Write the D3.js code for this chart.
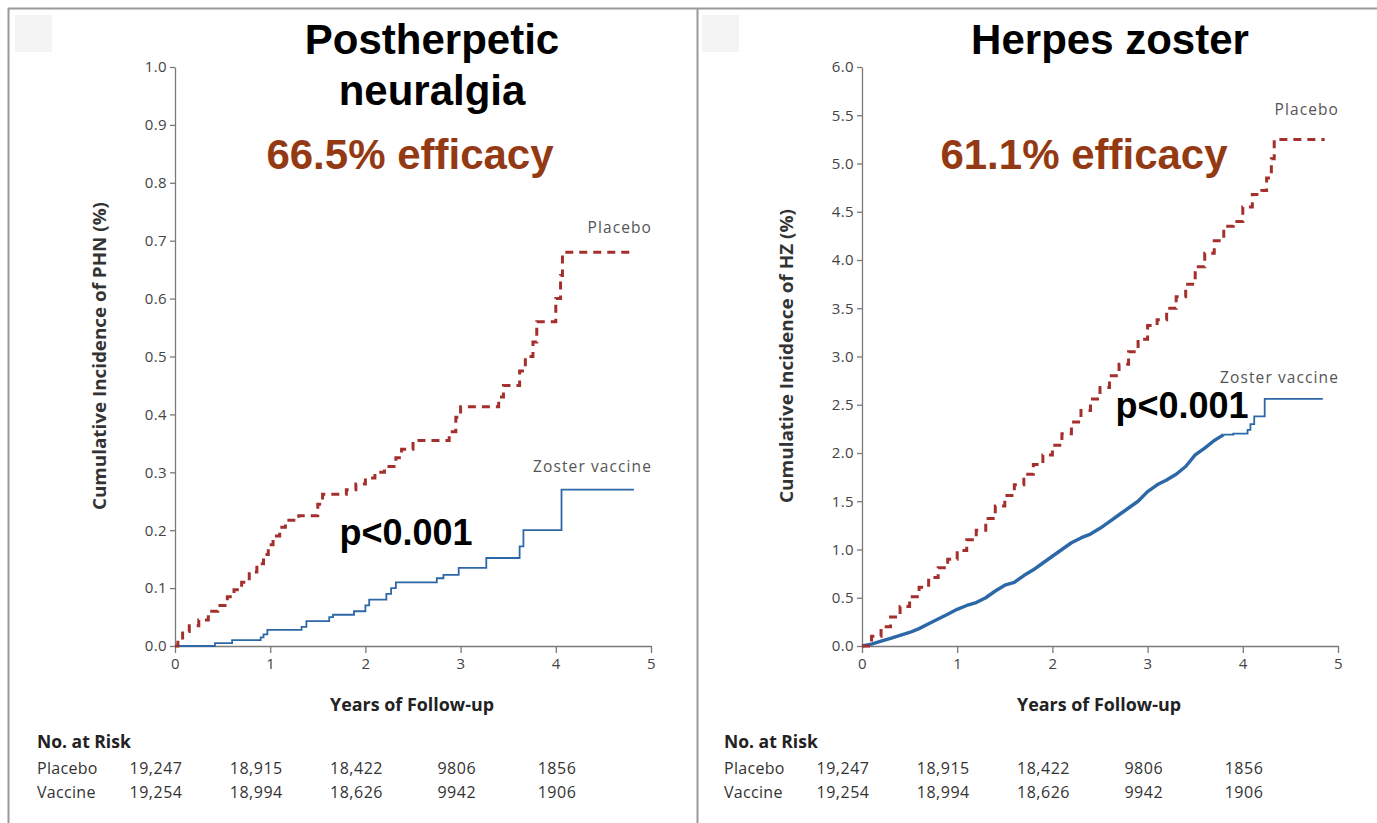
<!DOCTYPE html>
<html><head><meta charset="utf-8">
<script src="https://cdn.jsdelivr.net/npm/d3@7"></script>
<style>body{margin:0;background:#fff;overflow:hidden} svg{display:block}</style>
</head><body>
<svg id="c" width="1377" height="823"></svg>
<script>
// ---------- data ----------
const years = [0, 1, 2, 3, 4, 5];
const phnTicks = [0, 0.1, 0.2, 0.3, 0.4, 0.5, 0.6, 0.7, 0.8, 0.9, 1.0];
const hzTicks = [0, 0.5, 1.0, 1.5, 2.0, 2.5, 3.0, 3.5, 4.0, 4.5, 5.0, 5.5, 6.0];

const phnPlaceboT = [0,0.03,0.08,0.15,0.25,0.35,0.45,0.55,0.62,0.7,0.78,0.86,0.93,0.98,1.03,1.1,1.16,1.3,1.5,1.55,1.8,1.9,2.0,2.1,2.2,2.32,2.38,2.5,2.88,2.95,3.0,3.4,3.45,3.62,3.68,3.76,3.8,4.0,4.05,4.07,4.82];
const phnPlaceboV = [0,0.01,0.025,0.035,0.045,0.06,0.07,0.085,0.097,0.11,0.128,0.142,0.158,0.175,0.19,0.205,0.217,0.225,0.245,0.262,0.27,0.28,0.29,0.3,0.31,0.325,0.34,0.355,0.37,0.395,0.413,0.43,0.45,0.475,0.5,0.525,0.56,0.6,0.64,0.68,0.68];
const phnVaccineT = [0,0.42,0.6,0.9,0.93,0.97,1.33,1.38,1.62,1.66,1.88,2.0,2.04,2.22,2.27,2.32,2.75,2.82,2.98,3.27,3.62,3.66,4.06,4.82];
const phnVaccineV = [0,0.005,0.01,0.015,0.02,0.028,0.033,0.043,0.05,0.054,0.06,0.07,0.08,0.09,0.1,0.11,0.117,0.123,0.135,0.152,0.172,0.2,0.27,0.27];

const hzPlaceboT = [0,0.1,0.2,0.3,0.4,0.5,0.6,0.7,0.8,0.9,1.0,1.1,1.2,1.3,1.4,1.5,1.6,1.7,1.8,1.9,2.0,2.1,2.2,2.3,2.4,2.5,2.6,2.7,2.8,2.9,3.0,3.1,3.2,3.3,3.4,3.5,3.6,3.7,3.8,3.9,4.0,4.1,4.2,4.25,4.3,4.33,4.86];
const hzPlaceboV = [0,0.1,0.2,0.3,0.41,0.51,0.61,0.71,0.81,0.9,0.99,1.1,1.2,1.32,1.45,1.56,1.67,1.78,1.88,1.98,2.08,2.2,2.32,2.44,2.56,2.68,2.8,2.92,3.05,3.18,3.32,3.38,3.5,3.62,3.75,3.93,4.07,4.2,4.35,4.4,4.55,4.68,4.72,4.85,5.05,5.25,5.25];
const hzVaccineT = [0,0.1,0.2,0.3,0.4,0.5,0.6,0.7,0.8,0.9,1.0,1.1,1.2,1.3,1.4,1.5,1.6,1.7,1.8,1.9,2.0,2.1,2.2,2.3,2.4,2.5,2.6,2.7,2.8,2.9,3.0,3.1,3.2,3.3,3.4,3.5,3.6,3.7,3.8,3.9,4.05,4.08,4.12,4.23,4.84];
const hzVaccineV = [0,0.02,0.05,0.08,0.11,0.14,0.18,0.23,0.28,0.33,0.38,0.42,0.45,0.5,0.57,0.63,0.66,0.73,0.79,0.86,0.93,1.0,1.07,1.12,1.16,1.22,1.29,1.36,1.43,1.5,1.6,1.67,1.72,1.78,1.86,1.98,2.05,2.13,2.19,2.2,2.24,2.3,2.38,2.56,2.56];

const riskRows = ["Placebo", "Vaccine"];
const riskPlacebo = ["19,247", "18,915", "18,422", "9806", "1856"];
const riskVaccine = ["19,254", "18,994", "18,626", "9942", "1906"];

// ---------- drawing ----------
const svg = d3.select("#c");
const SANS = "'Open Sans', 'DejaVu Sans', sans-serif";
const ARIAL = "'Liberation Sans', Arial, sans-serif";
const PLACEBO_COL = "#a3302c";
const VACCINE_COL = "#2c68a8";
const EFF_COL = "#933a14";

// frame
svg.append("line").attr("x1", 8).attr("x2", 1377).attr("y1", 8.5).attr("y2", 8.5).attr("stroke", "#9a9a9a").attr("stroke-width", 2);
svg.append("line").attr("x1", 8.5).attr("x2", 8.5).attr("y1", 8).attr("y2", 823).attr("stroke", "#9a9a9a").attr("stroke-width", 2);
svg.append("line").attr("x1", 697.5).attr("x2", 697.5).attr("y1", 8).attr("y2", 823).attr("stroke", "#9a9a9a").attr("stroke-width", 2);

function zip(t, v) { return t.map((d, i) => [d, v[i]]); }

function panel(o) {
  const g = svg.append("g");
  g.append("rect").attr("x", o.x0 - 160).attr("y", 15).attr("width", 37).attr("height", 37).attr("fill", "#f4f4f4");

  const x = d3.scaleLinear().domain([0, 5]).range([o.x0, o.x0 + 476]);
  const y = d3.scaleLinear().domain([0, o.ymax]).range([646, 67]);

  const ya = g.append("g").attr("transform", `translate(${o.x0},0)`)
    .call(d3.axisLeft(y).tickValues(o.yticks).tickFormat(d3.format(".1f")).tickSize(5).tickSizeOuter(0).tickPadding(3));
  const xa = g.append("g").attr("transform", "translate(0,646)")
    .call(d3.axisBottom(x).tickValues(years).tickFormat(d3.format("d")).tickSize(7).tickSizeOuter(0).tickPadding(5));
  [ya, xa].forEach(a => {
    a.select(".domain").attr("stroke", "#7a7a7a").attr("stroke-width", 1.3);
    a.selectAll(".tick line").attr("stroke", "#7a7a7a").attr("stroke-width", 1.3);
    a.selectAll(".tick text").attr("fill", "#444").style("font-family", SANS).style("font-size", "15px")
      .style("letter-spacing", "0.4px");
  });

  const step = d3.line().x(d => x(d[0])).y(d => y(d[1])).curve(d3.curveStepAfter);
  const lin = d3.line().x(d => x(d[0])).y(d => y(d[1]));
  if (o.dense) {
    // dense early part: many small steps merge into a thick jagged line
    g.append("path").attr("d", step(o.vaccine.filter(d => d[0] >= 3.8))).attr("fill", "none")
      .attr("stroke", VACCINE_COL).attr("stroke-width", o.thin);
    g.append("path").attr("d", lin(o.vaccine.filter(d => d[0] <= 3.8))).attr("fill", "none")
      .attr("stroke", VACCINE_COL).attr("stroke-width", 3.4).attr("stroke-linejoin", "round");
  } else {
    g.append("path").attr("d", step(o.vaccine)).attr("fill", "none")
      .attr("stroke", VACCINE_COL).attr("stroke-width", o.thin);
  }
  g.append("path").attr("d", step(o.placebo)).attr("fill", "none")
    .attr("stroke", PLACEBO_COL).attr("stroke-width", 3).attr("stroke-dasharray", "8,6");

  // curve labels
  const lab = (txt, yy) => g.append("text").attr("x", x(5) + 1).attr("y", yy).attr("text-anchor", "end")
    .style("font-family", SANS).style("font-size", "15.5px").style("letter-spacing", "1.1px")
    .attr("fill", "#555").text(txt);
  lab("Placebo", o.placeboLabelY);
  lab("Zoster vaccine", o.vaccineLabelY);

  // axis titles
  g.append("text").attr("x", x(2.5) - 1).attr("y", 711).attr("text-anchor", "middle")
    .style("font-family", SANS).style("font-size", "17px").style("font-weight", "bold").attr("fill", "#222")
    .attr("textLength", 164).attr("lengthAdjust", "spacingAndGlyphs")
    .text("Years of Follow-up");
  g.append("text").attr("transform", `translate(${o.x0 - 69},356) rotate(-90)`).attr("text-anchor", "middle")
    .style("font-family", SANS).style("font-size", "17px").style("font-weight", "bold").attr("fill", "#333")
    .attr("textLength", o.ytitleLen).attr("lengthAdjust", "spacingAndGlyphs")
    .text(o.ytitle);

  // titles
  o.title.forEach((t, i) => {
    g.append("text").attr("x", o.titleX).attr("y", 54 + i * 51).attr("text-anchor", "middle")
      .style("font-family", ARIAL).style("font-size", "42px").style("font-weight", "bold").attr("fill", "#000").text(t);
  });
  g.append("text").attr("x", o.effX).attr("y", 169).attr("text-anchor", "middle")
    .style("font-family", ARIAL).style("font-size", "42px").style("font-weight", "bold").attr("fill", EFF_COL).text(o.eff);
  g.append("text").attr("x", o.pX).attr("y", o.pY).attr("text-anchor", "middle")
    .style("font-family", ARIAL).style("font-size", "36px").style("font-weight", "bold").attr("fill", "#000").text("p<0.001");

  // number at risk
  const lx = o.x0 - 138;
  g.append("text").attr("x", lx).attr("y", 748)
    .style("font-family", SANS).style("font-size", "17.5px").style("font-weight", "bold").attr("fill", "#222").text("No. at Risk");
  const col = d3.scaleLinear().domain([0, 4]).range([o.x0 - 19, o.x0 + 382]);
  [riskPlacebo, riskVaccine].forEach((row, r) => {
    const yy = 774 + r * 24;
    g.append("text").attr("x", lx).attr("y", yy)
      .style("font-family", SANS).style("font-size", "16px").style("letter-spacing", "0.3px").attr("fill", "#333").text(riskRows[r]);
    g.selectAll(null).data(row).enter().append("text")
      .attr("x", (d, i) => col(i)).attr("y", yy).attr("text-anchor", "middle")
      .style("font-family", SANS).style("font-size", "16px").style("letter-spacing", "0.5px").attr("fill", "#333").text(d => d);
  });
}

panel({
  x0: 175, ymax: 1.0, yticks: phnTicks,
  placebo: zip(phnPlaceboT, phnPlaceboV), vaccine: zip(phnVaccineT, phnVaccineV),
  thin: 1.8, dense: false,
  placeboLabelY: 233, vaccineLabelY: 472,
  ytitle: "Cumulative Incidence of PHN (%)", ytitleLen: 308,
  title: ["Postherpetic", "neuralgia"], titleX: 432,
  eff: "66.5% efficacy", effX: 410,
  pX: 406, pY: 545
});
panel({
  x0: 862, ymax: 6.0, yticks: hzTicks,
  placebo: zip(hzPlaceboT, hzPlaceboV), vaccine: zip(hzVaccineT, hzVaccineV),
  thin: 1.8, dense: true,
  placeboLabelY: 115, vaccineLabelY: 383,
  ytitle: "Cumulative Incidence of HZ (%)", ytitleLen: 294,
  title: ["Herpes zoster"], titleX: 1110,
  eff: "61.1% efficacy", effX: 1084,
  pX: 1182, pY: 418
});
</script>
</body></html>
